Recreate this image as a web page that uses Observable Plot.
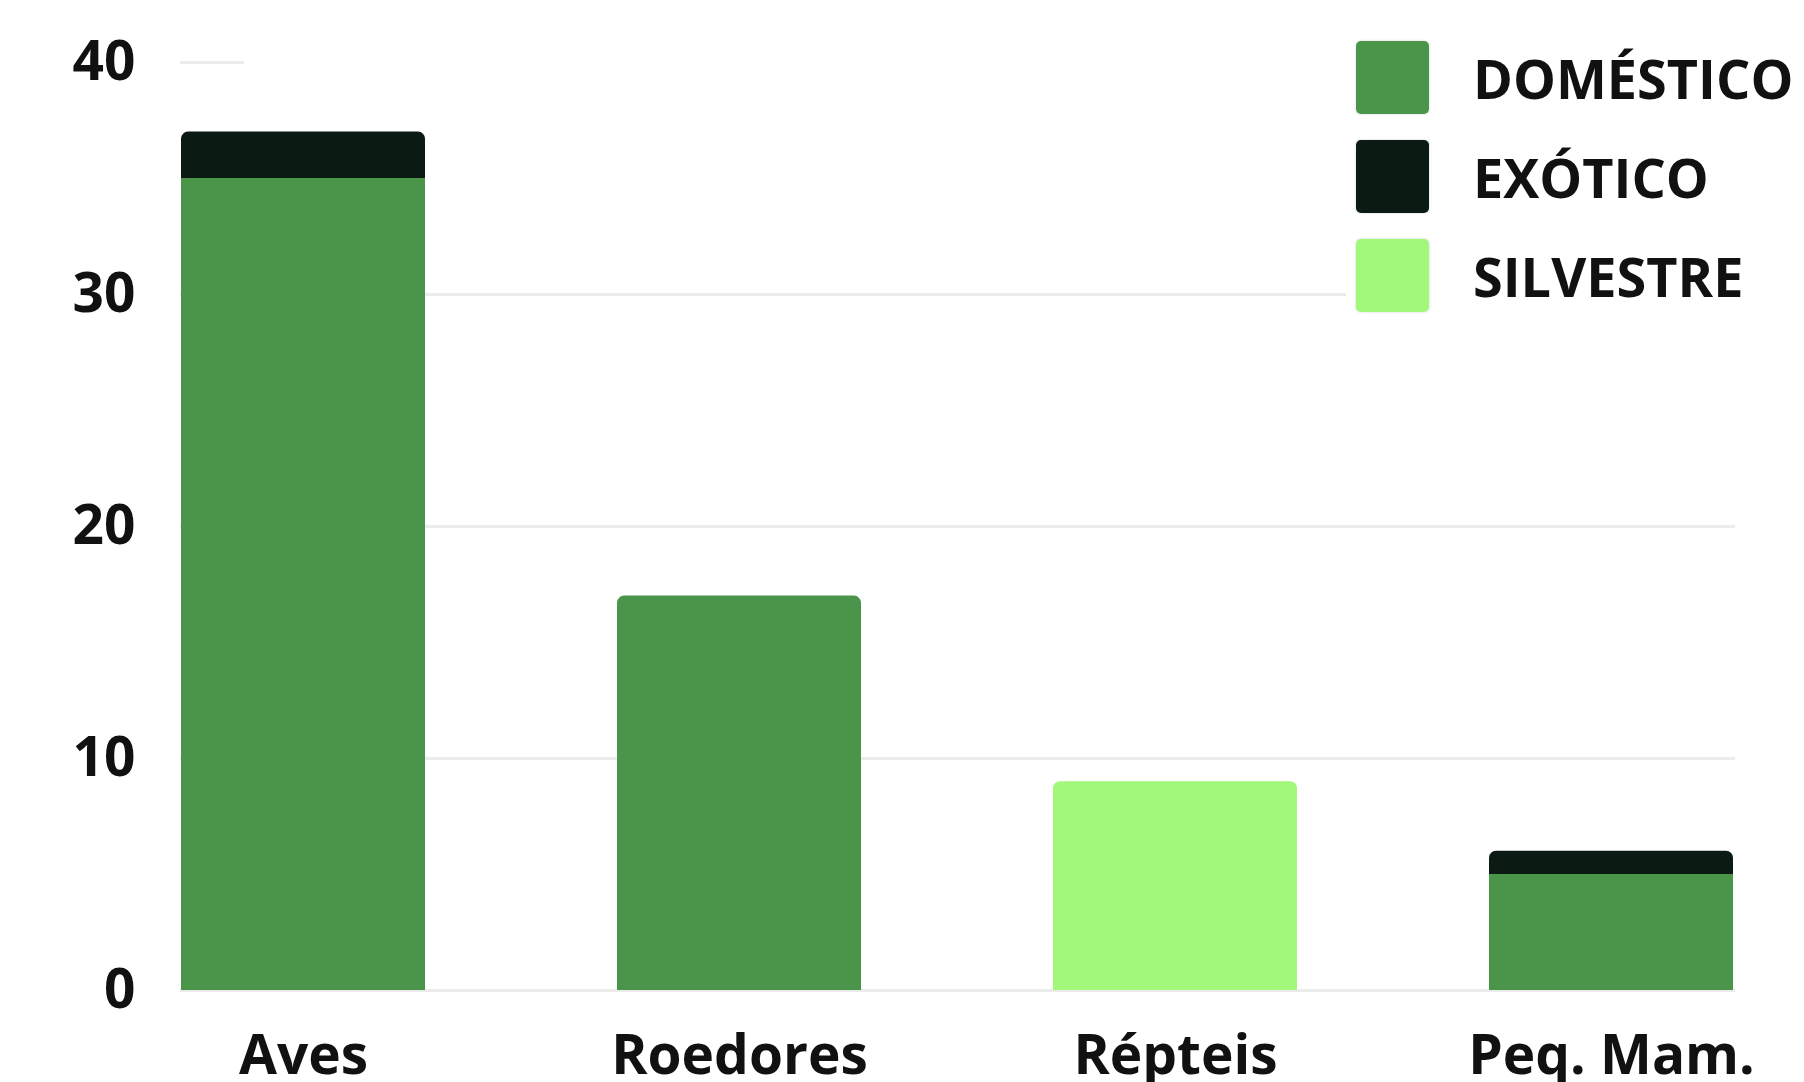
<!DOCTYPE html>
<html>
<head>
<meta charset="utf-8">
<script src="https://cdn.jsdelivr.net/npm/d3@7"></script>
<script src="https://cdn.jsdelivr.net/npm/@observablehq/plot@0.6"></script>
<style>
  html, body { margin: 0; padding: 0; background: #fff; overflow: hidden; }
  #wrap { position: relative; width: 1804px; height: 1082px; font-family: "Open Sans", sans-serif; }
  #legend { position: absolute; left: 1346px; top: 28px; width: 458px; background: #fff; }
  .item { display: flex; align-items: center; height: 99px; }
  .sw { width: 73px; height: 73px; border-radius: 5px; margin-left: 10px; box-shadow: 0 0 2px 1px rgba(0,0,0,0.08); }
  .lab { margin-left: 44px; font-size: 54px; font-weight: 700; color: #111; }
  #mask40 { position: absolute; left: 244px; top: 52px; width: 1560px; height: 20px; background: #fff; }
</style>
</head>
<body>
<div id="wrap"></div>
<script>
const categories = ["Aves", "Roedores", "Répteis", "Peq. Mam."];
const series = ["DOMÉSTICO", "EXÓTICO", "SILVESTRE"];
const domestico = [35, 17, 0, 5];
const exotico = [2, 0, 0, 1];
const silvestre = [0, 0, 9, 0];
const colors = ["#4a954a", "#0b1a12", "#a2f87a"];
const yTicks = [0, 10, 20, 30, 40];

const values = [domestico, exotico, silvestre];
const rows = [];
categories.forEach((cat, i) => {
  let acc = 0;
  let lastIdx = -1;
  values.forEach((v, s) => { if (v[i] > 0) lastIdx = s; });
  values.forEach((v, s) => {
    if (v[i] > 0) {
      rows.push({cat, series: series[s], y1: acc, y2: acc + v[i], top: s === lastIdx});
      acc += v[i];
    }
  });
});

const font = { fontSize: 55, fontWeight: 700, fill: "#111" };

const chart = Plot.plot({
  width: 1804,
  height: 1082,
  marginTop: 62,
  marginBottom: 92,
  marginLeft: 180,
  marginRight: 69,
  style: { fontFamily: "Open Sans, sans-serif", background: "#fff", overflow: "visible" },
  x: { domain: categories, paddingInner: 0.44, paddingOuter: 0, label: null },
  y: { domain: [0, 40], label: null },
  color: { domain: series, range: colors },
  marks: [
    Plot.ruleY(yTicks, { stroke: "#ebebeb", strokeWidth: 3 }),
    Plot.barY(rows.filter(d => !d.top), { x: "cat", y1: "y1", y2: "y2", fill: "series" }),
    Plot.barY(rows.filter(d => d.top), { x: "cat", y1: "y1", y2: "y2", fill: "series", ry1: 7 }),
    Plot.axisY({ ticks: yTicks, tickSize: 0, tickPadding: 45, label: null, ...font }),
    Plot.axisX({ tickSize: 0, tickPadding: 44, label: null, ...font })
  ]
});

const wrap = document.getElementById("wrap");
wrap.appendChild(chart);
const mask = document.createElement("div");
mask.id = "mask40";
wrap.appendChild(mask);
const legend = document.createElement("div");
legend.id = "legend";
series.forEach((s, i) => {
  const it = document.createElement("div");
  it.className = "item";
  const sw = document.createElement("div");
  sw.className = "sw";
  sw.style.background = colors[i];
  const lab = document.createElement("div");
  lab.className = "lab";
  lab.textContent = s;
  it.appendChild(sw);
  it.appendChild(lab);
  legend.appendChild(it);
});
wrap.appendChild(legend);
</script>
</body>
</html>
